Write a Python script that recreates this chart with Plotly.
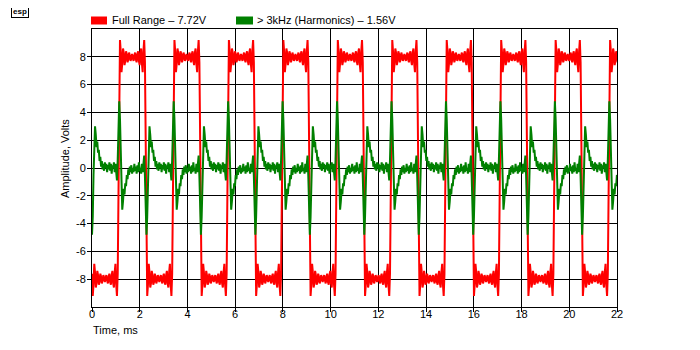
import numpy as np
import plotly.graph_objects as go

# ---- data ----
series_names = ["Full Range \u2013 7.72V", "> 3kHz (Harmonics) \u2013 1.56V"]
series_colors = ["#FF0000", "#008000"]

cycle_ms = 2.282          # one period of the waveform, ms
n_cycles = 10             # periods shown (0 .. 22 ms)

# one period, 72 samples, starting just after a falling edge (Volts)
red_cycle = [
    -7.6, -9.2, -8.4, -6.9, -7.5, -8.6, -8.3, -7.4, -7.7, -8.4, -8.2, -7.6,
    -7.8, -8.3, -8.1, -7.7, -7.9, -8.2, -7.9, -7.7, -8.1, -8.3, -7.8, -7.6,
    -8.2, -8.4, -7.7, -7.4, -8.3, -8.6, -7.5, -6.9, -8.4, -9.2, -7.6, 0.0,
    7.6, 9.2, 8.4, 6.9, 7.5, 8.6, 8.3, 7.4, 7.7, 8.4, 8.2, 7.6,
    7.8, 8.3, 8.1, 7.7, 7.9, 8.2, 7.9, 7.7, 8.1, 8.3, 7.8, 7.6,
    8.2, 8.4, 7.7, 7.4, 8.3, 8.6, 7.5, 6.9, 8.4, 9.2, 7.6, 0.0,
]
green_cycle = [
    -4.8, -3.5, -0.5, 2.2, 3.0, 2.4, 1.5, 1.9, 1.1, 1.3, 0.5, 0.8,
    0.1, 0.5, -0.1, 0.3, -0.2, 0.4, 0.0, 0.3, -0.3, 0.2, -0.1, 0.4,
    -0.2, 0.3, -0.4, 0.2, 0.0, 0.4, -0.3, 0.3, -0.2, -0.9, 0.6, 2.8,
    4.8, 3.5, 0.5, -2.2, -3.0, -2.4, -1.5, -1.9, -1.1, -1.3, -0.5, -0.8,
    -0.1, -0.5, 0.1, -0.3, 0.2, -0.4, 0.0, -0.3, 0.3, -0.2, 0.1, -0.4,
    0.2, -0.3, 0.4, -0.2, 0.0, -0.4, 0.3, -0.3, 0.2, 0.9, -0.6, -2.8,
]

x_ticks = [0, 2, 4, 6, 8, 10, 12, 14, 16, 18, 20, 22]
y_ticks = [-8, -6, -4, -2, 0, 2, 4, 6, 8]
y_tick_labels = ["-8", "-6", "-4", "-2", "0", "2", "4", "6", "8"]
x_title = "Time, ms"
y_title = "Amplitude, Volts"

# ---- build series ----
spc = len(red_cycle)
dt = cycle_ms / spc
t = np.arange(spc * n_cycles) * dt
red = np.tile(red_cycle, n_cycles)
green = np.tile(green_cycle, n_cycles)

OFF = 8                      # page margin of the html body
W, H = 700, 350
L, R, T, B = 84, 91, 21, 51  # plot area at page x 92..617, y 29..307
pw, ph = W - L - R, H - T - B


def px(x):                   # page pixel -> paper
    return (x - OFF - L) / pw


def py(y):
    return (H - B - (y - OFF)) / ph


FONT = "Liberation Sans, Arial, sans-serif"

fig = go.Figure()
fig.add_trace(go.Scatter(x=t, y=red, mode="lines", name=series_names[0],
                         line=dict(color=series_colors[0], width=2), showlegend=False))
fig.add_trace(go.Scatter(x=t, y=green, mode="lines", name=series_names[1],
                         line=dict(color=series_colors[1], width=2), showlegend=False))

axis_common = dict(showline=True, mirror=True, linecolor="black", linewidth=1,
                   showgrid=True, gridcolor="black", gridwidth=1,
                   zeroline=True, zerolinecolor="black", zerolinewidth=1,
                   ticks="outside", ticklen=4, tickcolor="black", tickwidth=1,
                   tickfont=dict(family=FONT, size=11, color="black"))

fig.update_xaxes(range=[0, 22], tickmode="array", tickvals=x_ticks,
                 ticktext=[str(v) for v in x_ticks], ticklabelstandoff=-7, **axis_common)
fig.update_yaxes(range=[-10, 10], tickmode="array", tickvals=y_ticks,
                 ticktext=y_tick_labels, ticklabelstandoff=-1, **axis_common)

shapes = []
annotations = []
# legend swatches + labels
legend_pos = [(91, 107, 110), (236, 253, 255)]
for (x0, x1, tx), name, col in zip(legend_pos, series_names, series_colors):
    shapes.append(dict(type="rect", xref="paper", yref="paper",
                       x0=px(x0), x1=px(x1), y0=py(24.5), y1=py(16.5),
                       fillcolor=col, line=dict(width=0)))
    annotations.append(dict(text=name, xref="paper", yref="paper",
                            x=px(tx), y=py(20.5), xanchor="left", yanchor="middle",
                            showarrow=False, font=dict(family=FONT, size=11, color="black")))

annotations.append(dict(text=x_title, xref="paper", yref="paper",
                        x=px(91), y=py(330), xanchor="left", yanchor="middle",
                        showarrow=False, font=dict(family=FONT, size=11, color="black")))
annotations.append(dict(text=y_title, xref="paper", yref="paper", textangle=-90,
                        x=px(65), y=py(159), xanchor="center", yanchor="middle",
                        showarrow=False, font=dict(family=FONT, size=11, color="black")))
annotations.append(dict(text="<b>esp</b>", xref="paper", yref="paper",
                        x=px(11), y=py(12), xanchor="left", yanchor="middle",
                        showarrow=False, bordercolor="black", borderwidth=1, borderpad=1,
                        font=dict(family=FONT, size=8, color="black")))

fig.update_layout(width=W, height=H, autosize=False,
                  margin=dict(l=L, r=R, t=T, b=B, pad=0),
                  paper_bgcolor="white", plot_bgcolor="white",
                  shapes=shapes, annotations=annotations)

fig.write_html("out.html")
